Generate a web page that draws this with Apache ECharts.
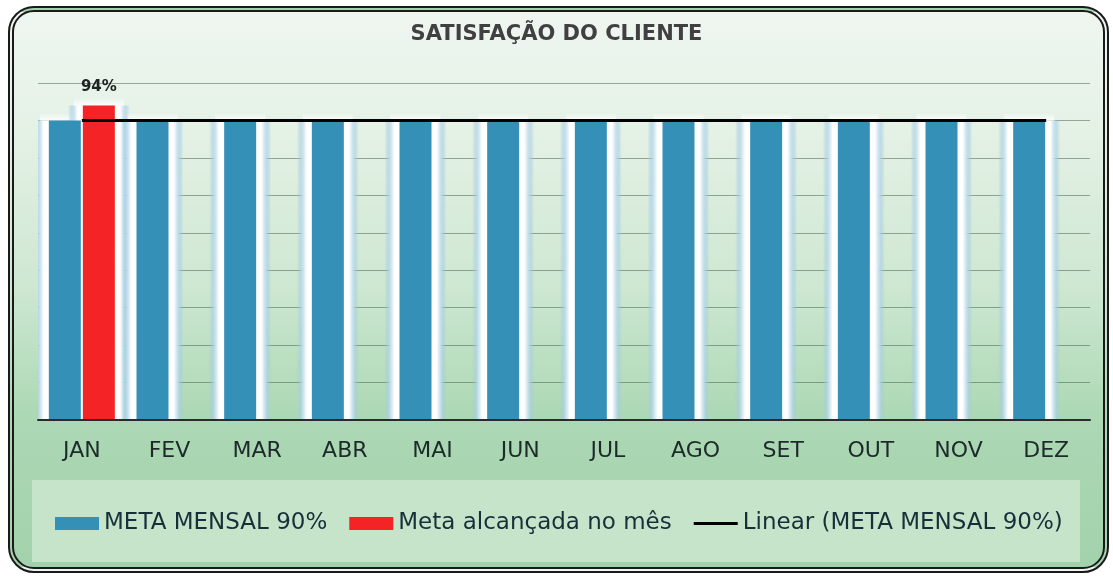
<!DOCTYPE html>
<html>
<head>
<meta charset="utf-8">
<title>Satisfação do Cliente</title>
<script src="https://cdn.jsdelivr.net/npm/echarts@6/dist/echarts.min.js"></script>
<style>
    html, body { margin: 0; padding: 0; background: #ffffff; }
    /* moldura arredondada com fundo verde em degradê */
    #frame {
        position: absolute; left: 8px; top: 6px;
        width: 1089px; height: 555px;
        border: 6px double #1a1a1a; border-radius: 26px;
        background: linear-gradient(180deg, #eff6f0 0%, #e4f1e5 22%, #cde7d1 50%, #acd8b4 73%, #a2d2ab 100%);
    }
    #chart { position: absolute; left: 0; top: 0; width: 1113px; height: 576px; }
</style>
</head>
<body>
<div id="frame"></div>
<div id="chart"></div>
<script>
    // dados
    const meses = ['JAN', 'FEV', 'MAR', 'ABR', 'MAI', 'JUN', 'JUL', 'AGO', 'SET', 'OUT', 'NOV', 'DEZ'];
    const metaMensal = [90, 90, 90, 90, 90, 90, 90, 90, 90, 90, 90, 90];
    const metaAlcancada = [94, null, null, null, null, null, null, null, null, null, null, null];
    const linearMeta = [90, 90, 90, 90, 90, 90, 90, 90, 90, 90, 90, 90];
    const eixoY = { min: 10, max: 100, passo: 10 };

    const fonte = '"DejaVu Sans", sans-serif';
    const larguraBarra = 32;
    const folgaBarra = 2;
    const brilho = 15; // largura do brilho de cada lado da coluna

    // brilho branco/azulado atrás das colunas (efeito "glow" do Excel)
    const brilhoDados = meses.map((m, i) => [i, metaMensal[i], metaAlcancada[i] == null ? '-' : metaAlcancada[i]]);

    const gradLados = new echarts.graphic.LinearGradient(0, 0, 1, 0, [
        { offset: 0, color: 'rgba(160,200,225,0)' },
        { offset: 0.05, color: 'rgba(165,205,228,0.55)' },
        { offset: 0.1, color: 'rgba(200,225,238,0.95)' },
        { offset: 0.16, color: 'rgba(255,255,255,1)' },
        { offset: 0.84, color: 'rgba(255,255,255,1)' },
        { offset: 0.9, color: 'rgba(200,225,238,0.95)' },
        { offset: 0.95, color: 'rgba(165,205,228,0.55)' },
        { offset: 1, color: 'rgba(160,200,225,0)' }
    ]);
    const gradTopo = new echarts.graphic.LinearGradient(0, 0, 0, 1, [
        { offset: 0, color: 'rgba(255,255,255,0)' },
        { offset: 1, color: 'rgba(255,255,255,0.85)' }
    ]);

    function colunaBrilho(cx, yTopo, yBase) {
        const x = cx - larguraBarra / 2 - brilho;
        const w = larguraBarra + 2 * brilho;
        return [
            { type: 'rect', shape: { x: x, y: yTopo, width: w, height: yBase - yTopo }, style: { fill: gradLados } },
            { type: 'rect', shape: { x: x + 6, y: yTopo - 8, width: w - 12, height: 8 }, style: { fill: gradTopo } }
        ];
    }

    function desenhaBrilho(params, api) {
        const i = api.value(0);
        const meta = api.value(1);
        const alc = api.value(2);
        const ponto = api.coord([i, meta]);
        const base = api.coord([i, eixoY.min]);
        const desloc = larguraBarra / 2 + folgaBarra / 2;
        let filhos = colunaBrilho(ponto[0] - desloc, ponto[1], base[1]);
        if (!isNaN(alc)) {
            filhos = filhos.concat(colunaBrilho(ponto[0] + desloc, api.coord([i, alc])[1], base[1]));
        }
        return { type: 'group', children: filhos };
    }

    const chart = echarts.init(document.getElementById('chart'), null, { renderer: 'canvas' });

    const option = {
        backgroundColor: 'transparent',
        animation: false,
        title: {
            text: 'SATISFAÇÃO DO CLIENTE',
            left: 'center',
            top: 19,
            textStyle: { fontFamily: fonte, fontSize: 21, fontWeight: 'bold', color: '#404040' }
        },
        graphic: [{
            type: 'rect',
            z: -1,
            shape: { x: 32, y: 480, width: 1048, height: 82 },
            style: { fill: '#c6e4ca' }
        }],
        legend: {
            left: 50,
            top: 507,
            itemWidth: 44,
            itemHeight: 13,
            itemGap: 22,
            textStyle: { fontFamily: fonte, fontSize: 23, color: '#16303a' },
            data: [
                { name: 'META MENSAL 90%', icon: 'rect' },
                { name: 'Meta alcançada no mês', icon: 'rect' },
                {
                    name: 'Linear (META MENSAL 90%)',
                    icon: 'path://M0,0L0.01,0Z M0,5L47,5L47,8L0,8Z M0,13L0.01,13Z',
                    itemStyle: { color: '#000000' }
                }
            ]
        },
        grid: { left: 38, right: 23, top: 83, bottom: 156 },
        xAxis: {
            type: 'category',
            data: meses,
            z: 10,
            axisLine: { lineStyle: { color: '#2b2b2b', width: 2 } },
            axisTick: { show: false },
            axisLabel: { fontFamily: fonte, fontSize: 22, color: '#1d2a2a', margin: 20 }
        },
        yAxis: {
            type: 'value',
            min: eixoY.min,
            max: eixoY.max,
            interval: eixoY.passo,
            axisLabel: { show: false },
            axisLine: { show: false },
            axisTick: { show: false },
            splitLine: { lineStyle: { color: 'rgba(45,75,50,0.45)', width: 1 } }
        },
        series: [
            {
                name: 'brilho',
                type: 'custom',
                data: brilhoDados,
                renderItem: desenhaBrilho,
                clip: true,
                silent: true,
                z: 1
            },
            {
                name: 'META MENSAL 90%',
                type: 'bar',
                data: metaMensal,
                barWidth: larguraBarra,
                barGap: (folgaBarra / larguraBarra * 100) + '%',
                z: 2,
                itemStyle: { color: '#3590b7' }
            },
            {
                name: 'Meta alcançada no mês',
                type: 'bar',
                data: metaAlcancada,
                barWidth: larguraBarra,
                z: 2,
                itemStyle: { color: '#f42325' },
                label: {
                    show: true,
                    position: 'top',
                    distance: 11,
                    formatter: '{c}%',
                    fontFamily: fonte,
                    fontSize: 15,
                    fontWeight: 'bold',
                    color: '#222222'
                }
            },
            {
                name: 'Linear (META MENSAL 90%)',
                type: 'line',
                data: linearMeta,
                symbol: 'none',
                z: 5,
                lineStyle: { color: '#000000', width: 3 },
                itemStyle: { color: '#000000' }
            }
        ]
    };

    chart.setOption(option);
</script>
</body>
</html>
